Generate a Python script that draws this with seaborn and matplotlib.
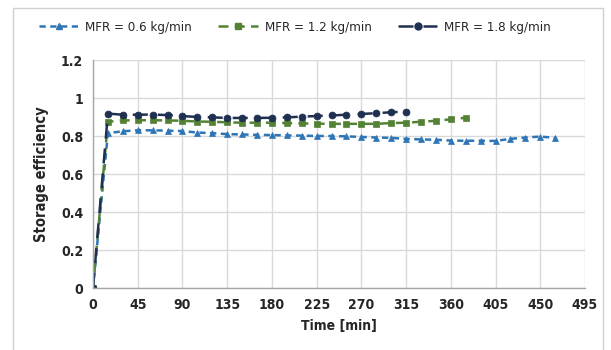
import numpy as np
import pandas as pd
import seaborn as sns
import matplotlib
matplotlib.use("Agg")
import matplotlib.pyplot as plt
from matplotlib.lines import Line2D
from matplotlib.ticker import MultipleLocator

# ---- data ----
time_06 = [0, 15, 30, 45, 60, 75, 90, 105, 120, 135, 150, 165, 180, 195, 210, 225,
           240, 255, 270, 285, 300, 315, 330, 345, 360, 375, 390, 405, 420, 435, 450, 465]
eff_06 = [0, 0.815, 0.825, 0.83, 0.83, 0.828, 0.826, 0.818, 0.815, 0.81, 0.808, 0.806,
          0.805, 0.803, 0.802, 0.80, 0.80, 0.798, 0.795, 0.792, 0.79, 0.785, 0.782, 0.78,
          0.776, 0.775, 0.775, 0.774, 0.785, 0.792, 0.797, 0.79]

time_12 = [0, 15, 30, 45, 60, 75, 90, 105, 120, 135, 150, 165, 180, 195, 210, 225,
           240, 255, 270, 285, 300, 315, 330, 345, 360, 375]
eff_12 = [0, 0.875, 0.882, 0.883, 0.883, 0.882, 0.88, 0.876, 0.875, 0.872, 0.87, 0.87,
          0.87, 0.868, 0.866, 0.865, 0.864, 0.864, 0.864, 0.864, 0.868, 0.87, 0.875,
          0.88, 0.888, 0.896]

time_18 = [0, 15, 30, 45, 60, 75, 90, 105, 120, 135, 150, 165, 180, 195, 210, 225,
           240, 255, 270, 285, 300, 315]
eff_18 = [0, 0.918, 0.912, 0.912, 0.913, 0.91, 0.905, 0.9, 0.898, 0.895, 0.895, 0.895,
          0.896, 0.898, 0.902, 0.905, 0.908, 0.912, 0.916, 0.92, 0.925, 0.928]

labels = ["MFR = 0.6 kg/min", "MFR = 1.2 kg/min", "MFR = 1.8 kg/min"]
x_ticks = [0, 45, 90, 135, 180, 225, 270, 315, 360, 405, 450, 495]
y_ticks = [0, 0.2, 0.4, 0.6, 0.8, 1.0, 1.2]
y_ticklabels = ["0", "0.2", "0.4", "0.6", "0.8", "1", "1.2"]

# ---- style ----
sns.set_style("white")
plt.rcParams['font.family'] = ['DejaVu Sans']
plt.rcParams['font.stretch'] = 'condensed'

W, H = 611, 350
fig = plt.figure(figsize=(W / 100, H / 100), dpi=100)
ax = fig.add_axes([93 / W, 1 - 288 / H, (585 - 93) / W, (288 - 60) / H])

colors = ["#2E75B6", "#548235", "#1F3050"]
styles = [(0, (2.5, 1.8)), (0, (4.0, 2.5)), (0, (6.0, 4.0))]
markers = ["^", "s", "o"]

series = [(time_06, eff_06), (time_12, eff_12), (time_18, eff_18)]
for (t, e), c, ls, m, lab in zip(series, colors, styles, markers, labels):
    df = pd.DataFrame({"t": t, "e": e})
    sns.lineplot(data=df, x="t", y="e", ax=ax, color=c, linestyle=ls, linewidth=1.8,
                 marker=m, markersize=5, markeredgewidth=0.5, markeredgecolor=c,
                 label=lab, legend=False)

ax.set_xlim(0, 495)
ax.set_ylim(0, 1.2)
ax.set_xticks(x_ticks)
ax.set_xticklabels([str(v) for v in x_ticks])
ax.set_yticks(y_ticks)
ax.set_yticklabels(y_ticklabels)
ax.xaxis.set_minor_locator(MultipleLocator(15))
ax.yaxis.set_minor_locator(MultipleLocator(0.04))

ax.grid(True, which="major", color="#D9D9D9", linewidth=1.0)
ax.set_axisbelow(True)
for s in ["top", "right"]:
    ax.spines[s].set_visible(False)
for s in ["left", "bottom"]:
    ax.spines[s].set_color("#A6A6A6")
    ax.spines[s].set_linewidth(1.0)

ax.tick_params(axis="both", which="major", direction="out", length=4, width=0.8,
               color="#A6A6A6", labelsize=10, pad=3)
ax.tick_params(axis="both", which="minor", direction="out", length=3, width=0.8,
               color="#A6A6A6")
for lbl in ax.get_xticklabels() + ax.get_yticklabels():
    lbl.set_fontweight("bold")

ax.set_xlabel("Time [min]", fontsize=10, fontweight="bold", labelpad=5)
ax.set_ylabel("Storage efficiency", fontsize=10.5, fontweight="bold", labelpad=9)

handles = [Line2D([0], [0], color=c, linestyle=ls, linewidth=1.8, marker=m,
                  markersize=5, markeredgecolor=c)
           for c, ls, m in zip(colors, styles, markers)]
fig.legend(handles, labels, loc="center", bbox_to_anchor=(295 / W, 1 - 27 / H),
           ncol=3, frameon=False, fontsize=9.5, handlelength=3.0, columnspacing=2.0,
           handletextpad=0.5)

# outer chart border (partial, as in the reference crop)
border = Line2D([13 / W, 13 / W, 603 / W, 603 / W],
                [0, 1 - 8 / H, 1 - 8 / H, 0],
                transform=fig.transFigure, color="#D0D0D0", linewidth=1.0)
fig.add_artist(border)

fig.savefig("out.png", dpi=100)
